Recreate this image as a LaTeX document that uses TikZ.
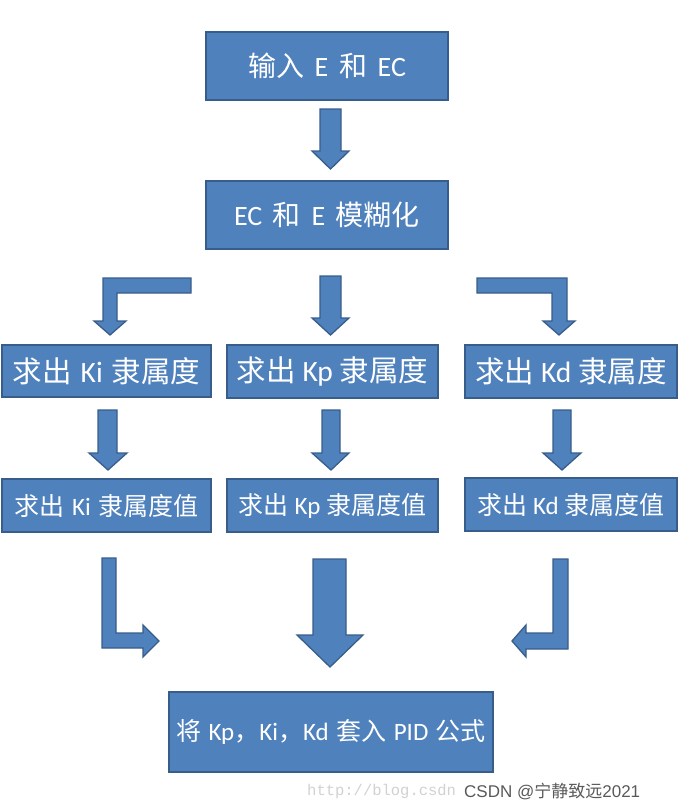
\documentclass[tikz,border=0pt]{standalone}
\usepackage{fontspec}
\setmainfont{Carlito}
\newfontfamily\cjk{Noto Sans CJK SC}
\newfontfamily\wmsans{Liberation Sans}
\newfontfamily\wmmono{Liberation Mono}
\definecolor{boxfill}{HTML}{4F81BD}
\definecolor{boxline}{HTML}{385D8A}
\newcommand{\wsp}{\hspace{0.38em}}
\newcommand{\nsp}{\hspace{0.3em}}
\tikzset{
  box/.style={draw=boxline, fill=boxfill, line width=1.3pt, text=white, inner sep=0pt, anchor=center},
  bigbox/.style={box, minimum width=242pt, minimum height=68pt, font=\fontsize{28}{31}\selectfont},
  rowbox/.style={box, minimum width=210pt, minimum height=53pt, font=\fontsize{29.5}{32}\selectfont},
  valbox/.style={box, minimum width=210pt, minimum height=53pt, font=\fontsize{25}{28}\selectfont},
  blockarrow/.style={draw=boxline, fill=boxfill, line width=1.3pt, line join=miter}
}
\begin{document}
\begin{tikzpicture}[x=1pt,y=-1pt]
\useasboundingbox (0,0) rectangle (678,809);
% boxes
\node[bigbox] (input) at (327,66) {{\cjk 输入}\wsp E\wsp{\cjk 和}\wsp EC};
\node[bigbox] (fuzzy) at (327,215) {EC\wsp{\cjk 和}\wsp E\wsp{\cjk 模糊化}};
\node[rowbox, minimum width=209pt, minimum height=52pt] (ki) at (106.5,371) {{\cjk 求出}\nsp Ki\nsp{\cjk 隶属度}};
\node[rowbox, minimum width=211pt] (kp) at (332.5,371.5) {{\cjk 求出} Kp {\cjk 隶属度}};
\node[rowbox, minimum width=212pt] (kd) at (571,371.5) {{\cjk 求出} Kd {\cjk 隶属度}};
\node[valbox, minimum width=209pt] (kiv) at (106.5,505.5) {{\cjk 求出}\nsp Ki\nsp{\cjk 隶属度值}};
\node[valbox, minimum width=211pt] (kpv) at (332.5,505.5) {{\cjk 求出} Kp {\cjk 隶属度值}};
\node[valbox, minimum width=212pt] (kdv) at (571,504.5) {{\cjk 求出} Kd {\cjk 隶属度值}};
\node[box, minimum width=324pt, minimum height=80pt, font=\fontsize{25}{28}\selectfont] (pid) at (331,732)
  {{\cjk 将}\nsp Kp{\cjk ，}Ki{\cjk ，}Kd\nsp{\cjk 套入}\nsp PID\nsp{\cjk 公式}};
% block arrows
\draw[blockarrow] (320,109) -- (341,109) -- (341,151) -- (349,151) -- (330.5,169) -- (312,151) -- (320,151) -- cycle;
\draw[blockarrow] (191,278) -- (191,293) -- (117,293) -- (117,321) -- (126,321) -- (110,335) -- (94,321) -- (103,321) -- (103,278) -- cycle;
\draw[blockarrow] (320,276) -- (341,276) -- (341,318) -- (349,318) -- (330.5,335) -- (312,318) -- (320,318) -- cycle;
\draw[blockarrow] (477,278) -- (567,278) -- (567,321) -- (575,321) -- (559,335) -- (543,321) -- (552,321) -- (552,293) -- (477,293) -- cycle;
\draw[blockarrow] (98,410) -- (117,410) -- (117,453) -- (127,453) -- (108,470) -- (89,453) -- (98,453) -- cycle;
\draw[blockarrow] (322,410) -- (340,410) -- (340,453) -- (349,453) -- (331,470) -- (312,453) -- (322,453) -- cycle;
\draw[blockarrow] (553,410) -- (571,410) -- (571,453) -- (581,453) -- (562,470) -- (543,453) -- (553,453) -- cycle;
\draw[blockarrow] (102,558) -- (116,558) -- (116,633) -- (143,633) -- (143,625) -- (159,641) -- (143,657) -- (143,648) -- (102,648) -- cycle;
\draw[blockarrow] (313,559) -- (346,559) -- (346,635) -- (363,635) -- (330,667) -- (297,635) -- (313,635) -- cycle;
\draw[blockarrow] (553,559) -- (568,559) -- (568,649) -- (526,649) -- (526,657) -- (512,641) -- (526,625) -- (526,633) -- (553,633) -- cycle;
% watermark
\node[anchor=west, text=black!18, font=\wmmono\fontsize{15.5}{17}\selectfont, inner sep=0pt] (url) at (307,791) {http://blog.csdn};
\node[anchor=west, text=black!65, font=\wmsans\fontsize{17}{19}\selectfont, inner sep=0pt] (wm) at (464,791) {CSDN @{\cjk 宁静致远}2021};
\end{tikzpicture}
\end{document}
